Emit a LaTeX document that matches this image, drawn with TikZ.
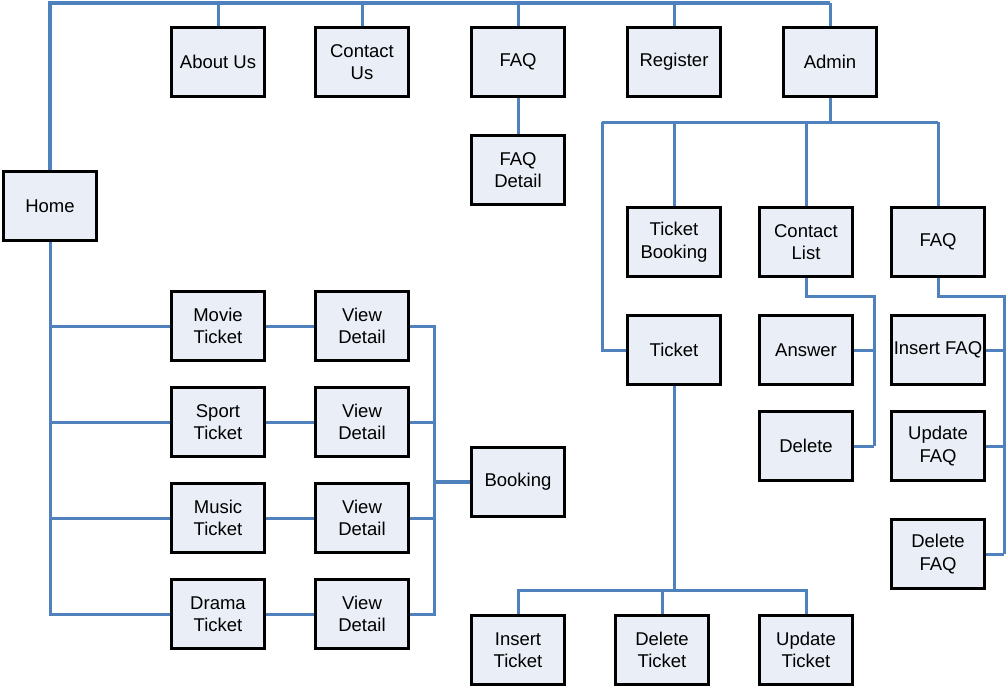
\documentclass[tikz,border=0pt]{standalone}
\usepackage{fontspec}
\setmainfont{Liberation Sans}
\definecolor{linkblue}{RGB}{79,129,189}
\definecolor{boxfill}{RGB}{233,238,247}
\begin{document}
\begin{tikzpicture}[x=1pt,y=-1pt,
  pagebox/.style={draw=black, line width=3pt, fill=boxfill, minimum width=93pt, minimum height=69pt,
    inner sep=0pt, align=center, font=\fontsize{18.5}{22.5}\selectfont},
  link/.style={draw=linkblue, line width=3pt},
  buslink/.style={draw=linkblue, line width=4pt}]
\useasboundingbox (0,0) rectangle (1007,688);
% nodes
\node[pagebox] (home) at (50,206) {Home};
\node[pagebox] (about) at (218,62) {About Us};
\node[pagebox] (contact) at (362,62) {Contact\\Us};
\node[pagebox] (faq) at (518,62) {FAQ};
\node[pagebox] (register) at (674,62) {Register};
\node[pagebox] (admin) at (830,62) {Admin};
\node[pagebox] (faqdetail) at (518,170) {FAQ\\Detail};
\node[pagebox] (tbooking) at (674,242) {Ticket\\Booking};
\node[pagebox] (clist) at (806,242) {Contact\\List};
\node[pagebox] (afaq) at (938,242) {FAQ};
\node[pagebox] (ticket) at (674,350) {Ticket};
\node[pagebox] (answer) at (806,350) {Answer};
\node[pagebox] (delete) at (806,446) {Delete};
\node[pagebox] (insfaq) at (938,350) {Insert FAQ};
\node[pagebox] (updfaq) at (938,446) {Update\\FAQ};
\node[pagebox] (delfaq) at (938,554) {Delete\\FAQ};
\node[pagebox] (movie) at (218,326) {Movie\\Ticket};
\node[pagebox] (sport) at (218,422) {Sport\\Ticket};
\node[pagebox] (music) at (218,518) {Music\\Ticket};
\node[pagebox] (drama) at (218,614) {Drama\\Ticket};
\node[pagebox] (vd1) at (362,326) {View\\Detail};
\node[pagebox] (vd2) at (362,422) {View\\Detail};
\node[pagebox] (vd3) at (362,518) {View\\Detail};
\node[pagebox] (vd4) at (362,614) {View\\Detail};
\node[pagebox] (booking) at (518,482) {Booking};
\node[pagebox] (insticket) at (518,650) {Insert\\Ticket};
\node[pagebox] (delticket) at (662,650) {Delete\\Ticket};
\node[pagebox] (updticket) at (806,650) {Update\\Ticket};
% bus coordinates
\coordinate (topbus) at (50,3);
\coordinate (adminbus) at (830,122);
\coordinate (clbus) at (874,296);
\coordinate (fqbus) at (1004,296);
\coordinate (vdbus) at (434,482);
\coordinate (tkbus) at (674,590);
% top level
\draw[buslink, line join=miter] (home.north) -- (topbus) -- (830,3);
\foreach \n in {about,contact,faq,register,admin}
  \draw[link] (\n.north) -- (\n.north |- topbus);
\draw[link] (faq.south) -- (faqdetail.north);
% admin
\draw[link] (admin.south) -- (adminbus);
\draw[link] (602,122) -- (938,122);
\draw[link] (tbooking.north) -- (tbooking.north |- adminbus);
\draw[link] (clist.north) -- (clist.north |- adminbus);
\draw[link] (afaq.north) -- (afaq.north |- adminbus);
\draw[link] (ticket.west) -| (602,122);
% contact list
\draw[link] (clist.south) |- (clbus) -- (clbus |- delete.east);
\draw[link] (answer.east) -- (answer.east -| clbus);
\draw[link] (delete.east) -- (delete.east -| clbus);
% admin faq
\draw[link] (afaq.south) |- (fqbus) -- (fqbus |- delfaq.east);
\draw[link] (insfaq.east) -- (insfaq.east -| fqbus);
\draw[link] (updfaq.east) -- (updfaq.east -| fqbus);
\draw[link] (delfaq.east) -- (delfaq.east -| fqbus);
% ticket
\draw[link] (ticket.south) -- (tkbus);
\draw[link] (insticket.north) |- (tkbus) -| (updticket.north);
\draw[link] (delticket.north) -- (delticket.north |- tkbus);
% home children
\draw[link] (home.south) -- (home.south |- drama.west) -- (drama.west);
\foreach \n in {movie,sport,music}
  \draw[link] (\n.west) -- (\n.west -| home.south);
\draw[link] (movie.east) -- (vd1.west);
\draw[link] (sport.east) -- (vd2.west);
\draw[link] (music.east) -- (vd3.west);
\draw[link] (drama.east) -- (vd4.west);
\draw[link] (vd1.east) -- (vd1.east -| vdbus) -- (vd4.east -| vdbus) -- (vd4.east);
\draw[link] (vd2.east) -- (vd2.east -| vdbus);
\draw[link] (vd3.east) -- (vd3.east -| vdbus);
\draw[buslink] (vdbus) -- (booking.west);
\end{tikzpicture}
\end{document}
